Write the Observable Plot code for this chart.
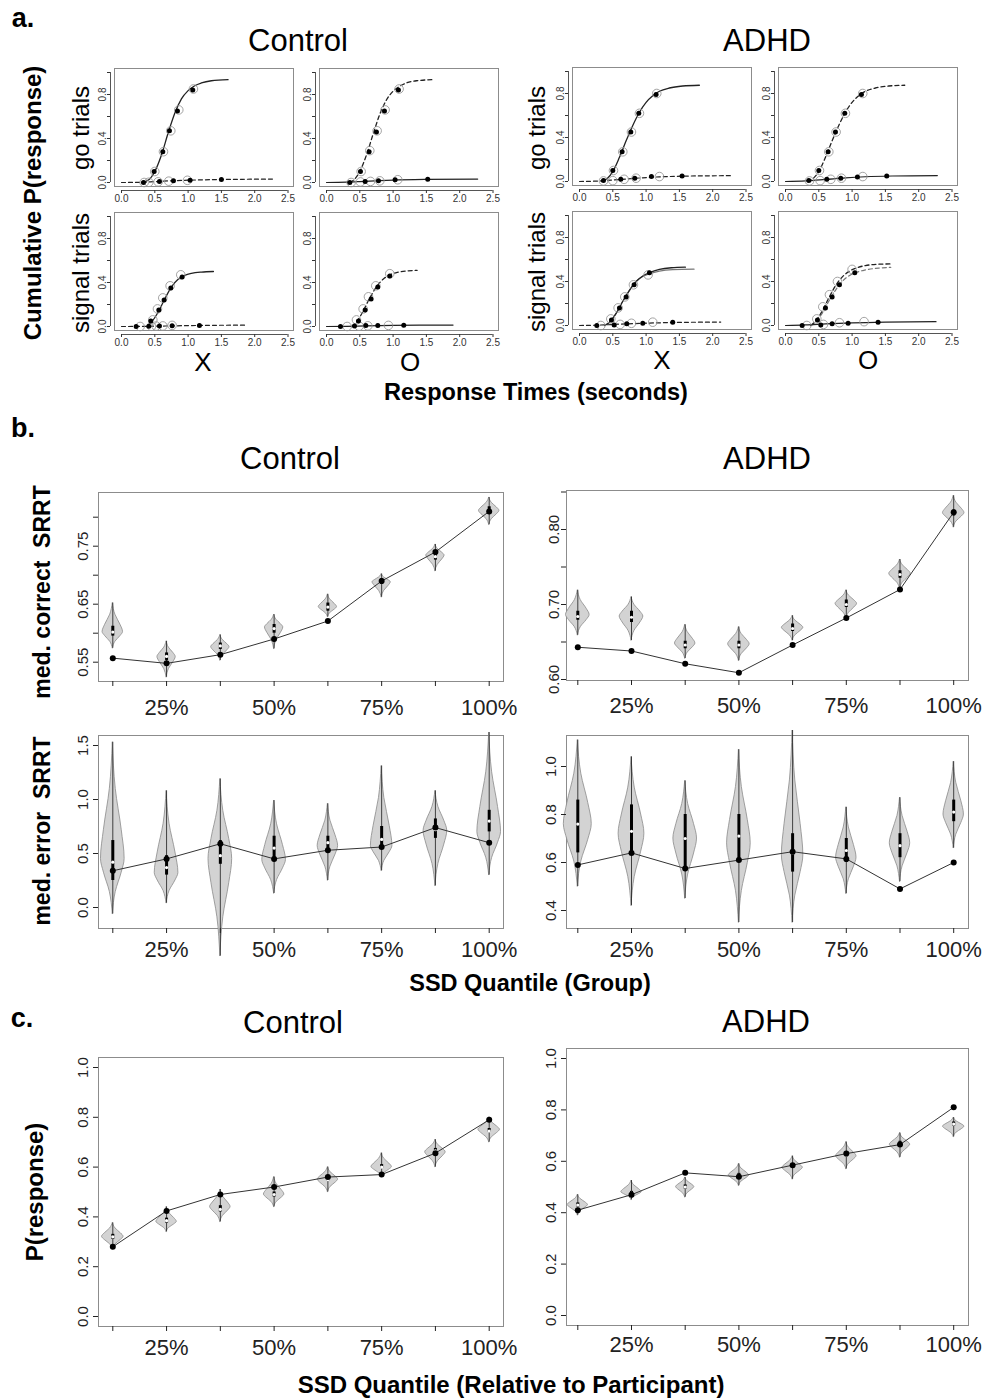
<!DOCTYPE html>
<html><head><meta charset="utf-8">
<script src="https://cdn.jsdelivr.net/npm/d3@7"></script>
<script src="https://cdn.jsdelivr.net/npm/@observablehq/plot@0.6"></script>
<style>
body{margin:0;background:#fff;}
#root{position:relative;width:994px;height:1399px;overflow:hidden;font-family:"Liberation Sans",Arial,sans-serif;color:#000;background:#fff;}
.t{position:absolute;white-space:pre;line-height:1;}
</style></head><body><div id="root"></div>
<script>
// ---------- Panel a: cumulative response-time curves ----------
const aXTicks = [0, 0.5, 1, 1.5, 2, 2.5];
const aYTicks = [0, 0.2, 0.4, 0.6, 0.8, 1.0];
const aYLabeled = [0, 0.4, 0.8];

// Control, go trials, stimulus X
const ctrlGoX_fitHi = [[0.30,0],[0.40,0.02],[0.50,0.10],[0.60,0.25],[0.70,0.45],[0.80,0.63],[0.90,0.76],[1.00,0.835],[1.10,0.88],[1.20,0.905],[1.35,0.925],[1.60,0.935]];
const ctrlGoX_fitLo = [[0.00,0],[0.30,0.002],[0.50,0.008],[0.80,0.017],[1.00,0.021],[1.50,0.027],[2.30,0.031]];
const ctrlGoX_fillHi = [[0.49,0.10],[0.62,0.28],[0.72,0.47],[0.84,0.65],[1.07,0.84]];
const ctrlGoX_fillLo = [[0.33,0.0],[0.57,0.01],[0.78,0.015],[1.03,0.02],[1.50,0.027]];
const ctrlGoX_openHi = [[0.50,0.10],[0.63,0.28],[0.74,0.47],[0.86,0.66],[1.08,0.85]];
const ctrlGoX_openLo = [[0.34,0.0],[0.41,0.002],[0.55,0.006],[0.71,0.012],[0.99,0.02]];
// Control, go trials, stimulus O
const ctrlGoO_fitHi = [[0.35,0],[0.42,0.03],[0.50,0.10],[0.60,0.25],[0.70,0.44],[0.80,0.62],[0.90,0.75],[1.00,0.83],[1.10,0.875],[1.20,0.905],[1.35,0.925],[1.60,0.935]];
const ctrlGoO_fitLo = [[0.00,0],[0.30,0.003],[0.50,0.008],[0.80,0.017],[1.00,0.022],[1.50,0.028],[2.27,0.031]];
const ctrlGoO_fillHi = [[0.51,0.10],[0.64,0.28],[0.75,0.46],[0.87,0.65],[1.08,0.84]];
const ctrlGoO_fillLo = [[0.35,0.0],[0.58,0.01],[0.78,0.016],[1.03,0.025],[1.52,0.03]];
const ctrlGoO_openHi = [[0.52,0.10],[0.65,0.29],[0.76,0.47],[0.88,0.66],[1.09,0.85]];
const ctrlGoO_openLo = [[0.37,0.0],[0.51,0.005],[0.66,0.01],[0.80,0.015],[1.07,0.025]];
// Control, signal trials, stimulus X
const ctrlSigX_fitHi = [[0.38,0],[0.45,0.04],[0.55,0.13],[0.65,0.25],[0.75,0.36],[0.85,0.43],[0.95,0.465],[1.05,0.483],[1.20,0.495],[1.38,0.50]];
const ctrlSigX_fitLo = [[0.00,0],[0.30,0.001],[0.60,0.004],[1.00,0.008],[1.40,0.011],[1.88,0.012]];
const ctrlSigX_fillHi = [[0.44,0.05],[0.56,0.15],[0.64,0.24],[0.74,0.35],[0.91,0.45]];
const ctrlSigX_fillLo = [[0.22,0.0],[0.41,0.002],[0.57,0.004],[0.76,0.006],[1.17,0.01]];
const ctrlSigX_openHi = [[0.47,0.06],[0.54,0.16],[0.62,0.26],[0.73,0.37],[0.89,0.47]];
const ctrlSigX_openLo = [[0.28,0.0],[0.45,0.002],[0.52,0.004],[0.62,0.005],[0.76,0.01]];
// Control, signal trials, stimulus O
const ctrlSigO_fitHi = [[0.38,0],[0.45,0.04],[0.55,0.14],[0.65,0.26],[0.75,0.36],[0.85,0.43],[0.95,0.47],[1.05,0.49],[1.20,0.505],[1.36,0.51]];
const ctrlSigO_fitLo = [[0.00,0],[0.30,0.002],[0.60,0.006],[1.00,0.010],[1.40,0.012],[1.90,0.013]];
const ctrlSigO_fillHi = [[0.48,0.05],[0.58,0.15],[0.67,0.25],[0.77,0.36],[0.95,0.46]];
const ctrlSigO_fillLo = [[0.21,0.0],[0.42,0.004],[0.59,0.008],[0.77,0.01],[1.16,0.012]];
const ctrlSigO_openHi = [[0.45,0.06],[0.55,0.16],[0.63,0.27],[0.74,0.37],[0.95,0.48]];
const ctrlSigO_openLo = [[0.31,0.0],[0.49,0.003],[0.62,0.006],[0.93,0.01]];
// ADHD, go trials, stimulus X
const adhdGoX_fitHi = [[0.33,0],[0.42,0.03],[0.50,0.09],[0.60,0.22],[0.70,0.37],[0.80,0.51],[0.90,0.63],[1.00,0.72],[1.10,0.78],[1.20,0.82],[1.35,0.85],[1.55,0.868],[1.80,0.875]];
const adhdGoX_fitLo = [[0.00,0],[0.30,0.005],[0.60,0.018],[0.90,0.032],[1.20,0.042],[1.60,0.049],[2.27,0.053]];
const adhdGoX_fillHi = [[0.50,0.10],[0.64,0.27],[0.77,0.45],[0.89,0.62],[1.15,0.79]];
const adhdGoX_fillLo = [[0.36,0.01],[0.62,0.02],[0.83,0.03],[1.08,0.045],[1.54,0.05]];
const adhdGoX_openHi = [[0.51,0.10],[0.65,0.27],[0.78,0.45],[0.90,0.62],[1.16,0.80]];
const adhdGoX_openLo = [[0.36,0.005],[0.50,0.008],[0.67,0.02],[0.85,0.03],[1.20,0.045]];
// ADHD, go trials, stimulus O
const adhdGoO_fitHi = [[0.33,0],[0.42,0.03],[0.50,0.09],[0.60,0.22],[0.70,0.37],[0.80,0.51],[0.90,0.63],[1.00,0.72],[1.10,0.78],[1.20,0.82],[1.35,0.85],[1.55,0.868],[1.79,0.875]];
const adhdGoO_fitLo = [[0.00,0],[0.30,0.006],[0.60,0.019],[0.90,0.033],[1.20,0.043],[1.60,0.05],[2.28,0.054]];
const adhdGoO_fillHi = [[0.50,0.10],[0.64,0.27],[0.75,0.45],[0.89,0.62],[1.14,0.79]];
const adhdGoO_fillLo = [[0.35,0.01],[0.62,0.02],[0.83,0.03],[1.08,0.04],[1.52,0.05]];
const adhdGoO_openHi = [[0.51,0.10],[0.65,0.27],[0.76,0.45],[0.90,0.62],[1.16,0.80]];
const adhdGoO_openLo = [[0.36,0.005],[0.52,0.008],[0.68,0.02],[0.84,0.03],[1.16,0.045]];
// ADHD, signal trials, stimulus X
const adhdSigX_fitHi = [[0.38,0],[0.45,0.03],[0.55,0.11],[0.65,0.22],[0.75,0.32],[0.85,0.40],[0.95,0.45],[1.05,0.48],[1.20,0.51],[1.38,0.525],[1.59,0.53]];
const adhdSigX_fitHi2 = [[0.38,0],[0.45,0.03],[0.55,0.11],[0.65,0.22],[0.75,0.32],[0.85,0.40],[0.95,0.445],[1.05,0.47],[1.20,0.495],[1.40,0.508],[1.72,0.512]];
const adhdSigX_fitLo = [[0.00,0],[0.30,0.004],[0.60,0.012],[1.00,0.021],[1.40,0.027],[2.12,0.031]];
const adhdSigX_fillHi = [[0.48,0.05],[0.60,0.16],[0.70,0.26],[0.82,0.37],[1.05,0.48]];
const adhdSigX_fillLo = [[0.26,0.0],[0.52,0.005],[0.71,0.015],[0.95,0.02],[1.40,0.03]];
const adhdSigX_openHi = [[0.47,0.06],[0.58,0.16],[0.68,0.26],[0.81,0.37],[1.03,0.46]];
const adhdSigX_openLo = [[0.32,0.0],[0.61,0.01],[0.78,0.02],[1.10,0.03]];
// ADHD, signal trials, stimulus O
const adhdSigO_fitHi = [[0.38,0],[0.45,0.04],[0.55,0.13],[0.65,0.25],[0.75,0.36],[0.85,0.44],[0.95,0.49],[1.05,0.52],[1.20,0.545],[1.40,0.557],[1.58,0.56]];
const adhdSigO_fitHi2 = [[0.38,0],[0.45,0.03],[0.55,0.11],[0.65,0.22],[0.75,0.32],[0.85,0.40],[0.95,0.45],[1.05,0.48],[1.20,0.505],[1.40,0.522],[1.58,0.528]];
const adhdSigO_fitLo = [[0.00,0],[0.30,0.005],[0.60,0.014],[1.00,0.024],[1.50,0.031],[2.26,0.035]];
const adhdSigO_fillHi = [[0.48,0.05],[0.60,0.16],[0.70,0.26],[0.81,0.37],[1.04,0.48]];
const adhdSigO_fillLo = [[0.25,0.0],[0.53,0.005],[0.70,0.015],[0.94,0.02],[1.39,0.03]];
const adhdSigO_openHi = [[0.47,0.06],[0.56,0.17],[0.66,0.28],[0.78,0.40],[1.00,0.51]];
const adhdSigO_openLo = [[0.32,0.0],[0.57,0.01],[0.81,0.025],[1.18,0.035]];

// ---------- Panels b and c: violins per SSD quantile ----------
const quantIdx = [1, 2, 3, 4, 5, 6, 7, 8];
const quantTickLabels = ["", "25%", "", "50%", "", "75%", "", "100%"];
// rows: [min, q1, median, q3, max, mode, half-width]
const ctrlCorrectViolins = [
  [0.574,0.595,0.602,0.612,0.652,0.602,0.19],[0.524,0.553,0.560,0.566,0.586,0.559,0.17],
  [0.553,0.572,0.578,0.583,0.597,0.576,0.17],[0.573,0.600,0.608,0.615,0.632,0.610,0.17],
  [0.628,0.638,0.645,0.652,0.667,0.645,0.17],[0.662,0.684,0.689,0.694,0.702,0.688,0.17],
  [0.707,0.726,0.732,0.741,0.753,0.734,0.17],[0.787,0.805,0.811,0.818,0.834,0.811,0.19]];
const ctrlCorrectModel = [0.557, 0.548, 0.563, 0.590, 0.621, 0.690, 0.740, 0.810];
const adhdCorrectViolins = [
  [0.659,0.679,0.684,0.691,0.719,0.686,0.22],[0.652,0.676,0.683,0.691,0.710,0.684,0.22],
  [0.628,0.641,0.646,0.651,0.673,0.648,0.19],[0.625,0.641,0.646,0.651,0.670,0.647,0.20],
  [0.652,0.664,0.668,0.674,0.685,0.669,0.20],[0.681,0.696,0.700,0.706,0.719,0.701,0.20],
  [0.721,0.735,0.740,0.745,0.760,0.741,0.20],[0.803,0.818,0.822,0.826,0.845,0.822,0.20]];
const adhdCorrectModel = [0.643, 0.638, 0.621, 0.609, 0.646, 0.682, 0.720, 0.823];
const ctrlErrorViolins = [
  [-0.06,0.25,0.42,0.62,1.53,0.45,0.22],[0.04,0.30,0.37,0.48,1.08,0.32,0.22],
  [-0.45,0.40,0.48,0.62,1.19,0.45,0.22],[0.13,0.45,0.55,0.66,0.99,0.44,0.22],
  [0.25,0.52,0.60,0.66,0.96,0.57,0.19],[0.34,0.55,0.63,0.75,1.31,0.57,0.20],
  [0.20,0.64,0.72,0.82,1.08,0.71,0.22],[0.30,0.70,0.80,0.90,1.62,0.70,0.22]];
const ctrlErrorModel = [0.34, 0.45, 0.59, 0.45, 0.53, 0.56, 0.74, 0.60];
const adhdErrorViolins = [
  [0.50,0.64,0.76,0.86,1.11,0.76,0.26],[0.42,0.63,0.73,0.84,1.04,0.72,0.24],
  [0.45,0.58,0.70,0.80,0.94,0.70,0.22],[0.35,0.60,0.71,0.80,1.07,0.68,0.22],
  [0.35,0.56,0.64,0.72,1.15,0.63,0.20],[0.47,0.60,0.65,0.70,0.83,0.62,0.19],
  [0.52,0.62,0.67,0.72,0.87,0.68,0.19],[0.66,0.77,0.81,0.86,1.02,0.80,0.19]];
const adhdErrorModel = [0.59, 0.64, 0.575, 0.61, 0.645, 0.615, 0.49, 0.60];
const ctrlProbViolins = [
  [0.27,0.31,0.32,0.33,0.376,0.32,0.20],[0.34,0.375,0.385,0.395,0.44,0.38,0.19],
  [0.38,0.42,0.43,0.445,0.51,0.44,0.19],[0.44,0.48,0.49,0.50,0.56,0.49,0.19],
  [0.50,0.545,0.55,0.56,0.60,0.55,0.19],[0.56,0.595,0.60,0.61,0.656,0.60,0.19],
  [0.60,0.655,0.665,0.675,0.71,0.66,0.19],[0.70,0.74,0.745,0.755,0.80,0.75,0.20]];
const ctrlProbModel = [0.28, 0.424, 0.49, 0.52, 0.56, 0.57, 0.656, 0.79];
const adhdProbViolins = [
  [0.39,0.422,0.43,0.438,0.47,0.43,0.19],[0.45,0.467,0.475,0.483,0.525,0.48,0.19],
  [0.46,0.492,0.50,0.508,0.537,0.50,0.17],[0.505,0.537,0.545,0.553,0.59,0.545,0.19],
  [0.53,0.572,0.58,0.588,0.62,0.575,0.19],[0.57,0.617,0.625,0.633,0.675,0.62,0.19],
  [0.615,0.662,0.67,0.678,0.71,0.665,0.19],[0.695,0.737,0.745,0.753,0.77,0.735,0.20]];
const adhdProbModel = [0.41, 0.47, 0.555, 0.54, 0.585, 0.63, 0.665, 0.81];

// ---------- rendering ----------
const root = document.getElementById("root");
const FONT = "'Liberation Sans', Arial, sans-serif";

function txt(s, cx, cy, size, bold, rot) {
  const d = document.createElement("div");
  d.className = "t";
  d.textContent = s;
  d.style.fontSize = size + "px";
  if (bold) d.style.fontWeight = "bold";
  d.style.left = cx + "px";
  d.style.top = cy + "px";
  d.style.transform = "translate(-50%,-50%)" + (rot ? ` rotate(${rot}deg)` : "");
  root.appendChild(d);
}
function place(svg, left, top) {
  svg.style.position = "absolute";
  svg.style.left = left + "px";
  svg.style.top = top + "px";
  root.appendChild(svg);
}

const A_BW = 179, A_BH = 118, A_PXX = 66.6, A_PXY = 110;
function cdfPanel(p) {
  const axisLineX = p.left - 4, axisLineY = p.top + A_BH + 4;
  const x0px = p.left + 7, y0px = p.top + 114;
  const ML = 26, MR = 4, MT = 4, MB = 20;
  const right = p.left + A_BW;
  const xd = [(axisLineX - x0px) / A_PXX, (right - x0px) / A_PXX];
  const yd = [(y0px - axisLineY) / A_PXY, (y0px - p.top) / A_PXY];
  const dashHi = p.hiDash ? "4,3" : "none", dashLo = p.hiDash ? "none" : "4,3";
  const X = d => d[0], Y = d => d[1];
  const marks = [
    Plot.frame({stroke: "#8c8c8c", insetLeft: 4, insetBottom: 4}),
    Plot.ruleY([yd[0]], {x1: aXTicks[0], x2: aXTicks[aXTicks.length - 1], stroke: "#555"}),
    Plot.ruleX([xd[0]], {y1: aYTicks[0], y2: aYTicks[aYTicks.length - 1], stroke: "#555"}),
    Plot.axisX({ticks: aXTicks, tickFormat: d3.format(".1f"), tickSize: 3, tickPadding: 1, fontSize: 10, label: null}),
    Plot.axisY({ticks: aYTicks, tickFormat: v => aYLabeled.includes(v) ? v.toFixed(1) : "", tickRotate: -90, tickSize: 3, tickPadding: 2, fontSize: 10, label: null}),
  ];
  if (p.fitHi2) marks.push(Plot.line(p.fitHi2, {x: X, y: Y, curve: "monotone-x", stroke: "#777", strokeWidth: 1.2, strokeDasharray: dashHi}));
  marks.push(
    Plot.line(p.fitLo, {x: X, y: Y, curve: "monotone-x", stroke: "#222", strokeWidth: 1.2, strokeDasharray: dashLo}),
    Plot.line(p.fitHi, {x: X, y: Y, curve: "monotone-x", stroke: "#222", strokeWidth: 1.3, strokeDasharray: dashHi}),
    Plot.dot(p.openHi.concat(p.openLo), {x: X, y: Y, r: 4.3, stroke: "#999", strokeWidth: 0.9, fill: "none"}),
    Plot.dot(p.fillHi.concat(p.fillLo), {x: X, y: Y, r: 2.5, fill: "#000", stroke: "none"})
  );
  const svg = Plot.plot({
    width: right - axisLineX + ML + MR, height: axisLineY - p.top + MT + MB,
    marginLeft: ML, marginRight: MR, marginTop: MT, marginBottom: MB,
    x: {domain: xd}, y: {domain: yd},
    style: {background: "none", overflow: "visible", fontSize: "10px", fontFamily: FONT, color: "#333"},
    marks
  });
  place(svg, axisLineX - ML, p.top - MT);
}

const vRel = [0, 0.4, 0.75, 1];
const vWid = [0, 0.25, 0.75, 1];
function violinPanel(c) {
  const ML = 45, MR = 10, MT = 12, MB = 50;
  const xd = [1 - (c.idx1px - c.left) / c.step, 1 + (c.left + c.w - c.idx1px) / c.step];
  const yd = [c.yRef - (c.top + c.h - c.yRefPx) / c.ppu, c.yRef + (c.yRefPx - c.top) / c.ppu];
  const pts = [];
  c.rows.forEach((r, i) => {
    const k = quantIdx[i], lo = r[0], hi = r[4], m = r[5], w = r[6];
    vRel.forEach((t, j) => pts.push({k, y: lo + t * (m - lo), w: w * vWid[j]}));
    for (let j = vRel.length - 2; j >= 0; j--) pts.push({k, y: hi - vRel[j] * (hi - m), w: w * vWid[j]});
  });
  const K = (d, i) => quantIdx[i];
  const svg = Plot.plot({
    width: c.w + ML + MR, height: c.h + MT + MB,
    marginLeft: ML, marginRight: MR, marginTop: MT, marginBottom: MB,
    x: {domain: xd}, y: {domain: yd},
    style: {background: "none", overflow: "visible", fontFamily: FONT, color: "#222"},
    marks: [
      Plot.frame({stroke: "#8c8c8c"}),
      Plot.areaX(pts, {y: "y", x1: d => d.k - d.w, x2: d => d.k + d.w, z: "k", curve: "monotone-y", fill: "#d3d3d3", stroke: "#8a8a8a", strokeWidth: 0.8}),
      Plot.ruleX(c.rows, {x: K, y1: r => r[0], y2: r => r[4], stroke: "#1a1a1a", strokeWidth: 0.8}),
      Plot.ruleX(c.rows, {x: K, y1: r => r[1], y2: r => r[3], stroke: "#000", strokeWidth: 3}),
      Plot.dot(c.rows, {x: K, y: r => r[2], r: 1.6, fill: "#fff", stroke: "none"}),
      Plot.line(c.model, {x: K, y: d => d, stroke: "#333", strokeWidth: 1}),
      Plot.dot(c.model, {x: K, y: d => d, r: 3, fill: "#000", stroke: "none"}),
      Plot.axisX({ticks: quantIdx, tickFormat: i => quantTickLabels[i - 1], fontSize: 22, tickSize: 5, tickPadding: c.xPad, label: null}),
      Plot.axisY({ticks: c.yTicks, tickFormat: v => c.yLabeled.includes(v) ? d3.format(c.fmt)(v) : "", tickRotate: -90, fontSize: 15, tickSize: 5, tickPadding: c.yPad, label: null})
    ]
  });
  place(svg, c.left - ML, c.top - MT);
}

// a panels
const aPanels = [
  {left: 114, top: 68, hiDash: false, fitHi: ctrlGoX_fitHi, fitLo: ctrlGoX_fitLo, fillHi: ctrlGoX_fillHi, fillLo: ctrlGoX_fillLo, openHi: ctrlGoX_openHi, openLo: ctrlGoX_openLo},
  {left: 319, top: 68, hiDash: true, fitHi: ctrlGoO_fitHi, fitLo: ctrlGoO_fitLo, fillHi: ctrlGoO_fillHi, fillLo: ctrlGoO_fillLo, openHi: ctrlGoO_openHi, openLo: ctrlGoO_openLo},
  {left: 114, top: 212, hiDash: false, fitHi: ctrlSigX_fitHi, fitLo: ctrlSigX_fitLo, fillHi: ctrlSigX_fillHi, fillLo: ctrlSigX_fillLo, openHi: ctrlSigX_openHi, openLo: ctrlSigX_openLo},
  {left: 319, top: 212, hiDash: true, fitHi: ctrlSigO_fitHi, fitLo: ctrlSigO_fitLo, fillHi: ctrlSigO_fillHi, fillLo: ctrlSigO_fillLo, openHi: ctrlSigO_openHi, openLo: ctrlSigO_openLo},
  {left: 572, top: 67, hiDash: false, fitHi: adhdGoX_fitHi, fitLo: adhdGoX_fitLo, fillHi: adhdGoX_fillHi, fillLo: adhdGoX_fillLo, openHi: adhdGoX_openHi, openLo: adhdGoX_openLo},
  {left: 778, top: 67, hiDash: true, fitHi: adhdGoO_fitHi, fitLo: adhdGoO_fitLo, fillHi: adhdGoO_fillHi, fillLo: adhdGoO_fillLo, openHi: adhdGoO_openHi, openLo: adhdGoO_openLo},
  {left: 572, top: 211, hiDash: false, fitHi: adhdSigX_fitHi, fitHi2: adhdSigX_fitHi2, fitLo: adhdSigX_fitLo, fillHi: adhdSigX_fillHi, fillLo: adhdSigX_fillLo, openHi: adhdSigX_openHi, openLo: adhdSigX_openLo},
  {left: 778, top: 211, hiDash: true, fitHi: adhdSigO_fitHi, fitHi2: adhdSigO_fitHi2, fitLo: adhdSigO_fitLo, fillHi: adhdSigO_fillHi, fillLo: adhdSigO_fillLo, openHi: adhdSigO_openHi, openLo: adhdSigO_openLo}
];
aPanels.forEach(cdfPanel);

// b and c panels
const CTRL = {left: 98, w: 405, idx1px: 112.3, step: 53.77};
const ADHD = {left: 566, w: 402, idx1px: 577.3, step: 53.7};
violinPanel({...CTRL, top: 492, h: 189, yRef: 0.55, yRefPx: 661.7, ppu: 580, yTicks: [0.55,0.60,0.65,0.70,0.75,0.80], yLabeled: [0.55,0.65,0.75], fmt: ".2f", xPad: 13, yPad: 6, rows: ctrlCorrectViolins, model: ctrlCorrectModel});
violinPanel({...ADHD, top: 490, h: 190, yRef: 0.60, yRefPx: 679, ppu: 750, yTicks: [0.60,0.65,0.70,0.75,0.80,0.85], yLabeled: [0.60,0.70,0.80], fmt: ".2f", xPad: 12, yPad: 3, rows: adhdCorrectViolins, model: adhdCorrectModel});
violinPanel({...CTRL, top: 735, h: 193, yRef: 0.0, yRefPx: 907, ppu: 108, yTicks: [0,0.5,1.0,1.5], yLabeled: [0,0.5,1.0,1.5], fmt: ".1f", xPad: 8, yPad: 6, rows: ctrlErrorViolins, model: ctrlErrorModel});
violinPanel({...ADHD, top: 735, h: 193, yRef: 0.4, yRefPx: 910, ppu: 240, yTicks: [0.4,0.6,0.8,1.0], yLabeled: [0.4,0.6,0.8,1.0], fmt: ".1f", xPad: 8, yPad: 6, rows: adhdErrorViolins, model: adhdErrorModel});
violinPanel({...CTRL, top: 1057, h: 269, yRef: 0.0, yRefPx: 1316, ppu: 249, yTicks: [0,0.2,0.4,0.6,0.8,1.0], yLabeled: [0,0.2,0.4,0.6,0.8,1.0], fmt: ".1f", xPad: 8, yPad: 6, rows: ctrlProbViolins, model: ctrlProbModel});
violinPanel({...ADHD, top: 1048, h: 277, yRef: 0.0, yRefPx: 1315, ppu: 257, yTicks: [0,0.2,0.4,0.6,0.8,1.0], yLabeled: [0,0.2,0.4,0.6,0.8,1.0], fmt: ".1f", xPad: 6, yPad: 6, rows: adhdProbViolins, model: adhdProbModel});

// text
txt("a.", 23, 18, 27, true);
txt("Control", 298, 40, 31);
txt("ADHD", 767, 40, 31);
txt("Cumulative P(response)", 33, 203, 24, true, -90);
txt("go trials", 81, 128, 24, false, -90);
txt("signal trials", 81, 273, 24, false, -90);
txt("go trials", 537, 128, 24, false, -90);
txt("signal trials", 537, 272, 24, false, -90);
txt("X", 203, 362, 26);
txt("O", 410, 362, 26);
txt("X", 662, 360, 26);
txt("O", 868, 360, 26);
txt("Response Times (seconds)", 536, 393, 23.5, true);
txt("b.", 23, 428, 27, true);
txt("Control", 290, 458, 31);
txt("ADHD", 767, 458, 31);
txt("med. correct  SRRT", 42, 592, 23, true, -90);
txt("med. error  SRRT", 42, 831, 23, true, -90);
txt("SSD Quantile (Group)", 530, 984, 23.5, true);
txt("c.", 22, 1018, 27, true);
txt("Control", 293, 1022, 31);
txt("ADHD", 766, 1021, 31);
txt("P(response)", 35, 1192, 24, true, -90);
txt("SSD Quantile (Relative to Participant)", 511, 1385, 24, true);
</script></body></html>
